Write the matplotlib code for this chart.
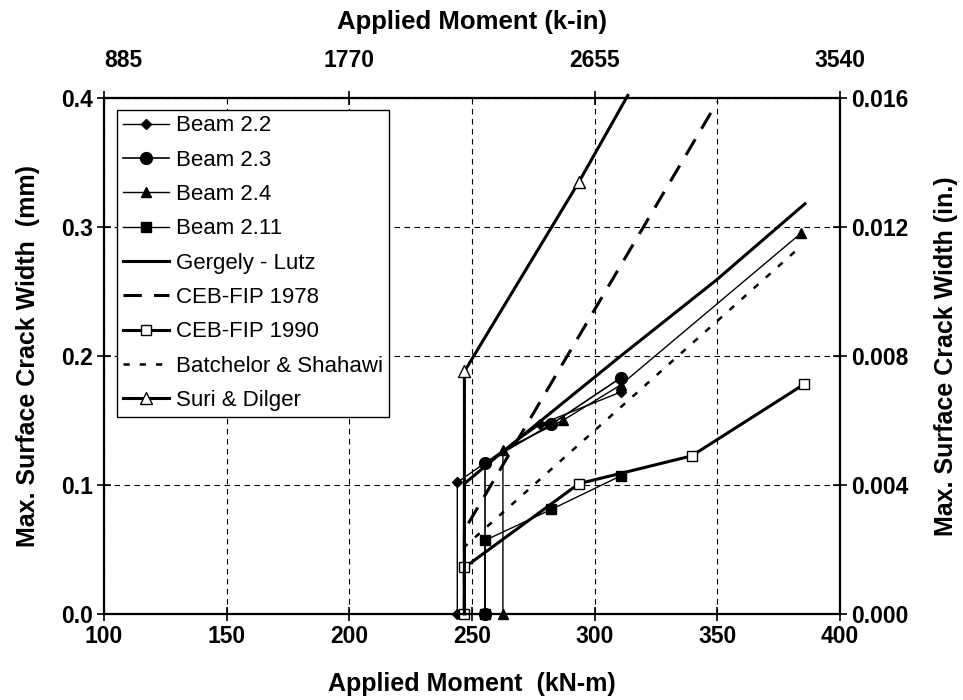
import matplotlib.pyplot as plt

plt.rcParams['font.family'] = ['Liberation Sans', 'DejaVu Sans']

# Test data (kN-m, mm)
b22_x = [244.0, 244.0, 277.9, 310.6]
b22_y = [0.0, 0.102, 0.147, 0.172]
b23_x = [255.3, 255.3, 282.3, 310.6]
b23_y = [0.0, 0.117, 0.147, 0.183]
b24_x = [262.6, 262.6, 287.0, 310.6, 384.0]
b24_y = [0.0, 0.127, 0.150, 0.1775, 0.295]
b211_x = [255.3, 255.3, 282.3, 310.6]
b211_y = [0.0, 0.057, 0.081, 0.107]

# Prediction models
gl_x = [246.9, 246.9, 261.4, 310.3, 349.7, 385.7]
gl_y = [0.0, 0.101, 0.124, 0.1995, 0.259, 0.318]
ceb78_x = [246.9, 246.9, 350.0]
ceb78_y = [0.0, 0.065, 0.397]
ceb90_x = [246.9, 246.9, 293.6, 339.5, 385.3]
ceb90_y = [0.0, 0.036, 0.101, 0.1225, 0.178]
bs_x = [246.9, 246.9, 384.0]
bs_y = [0.0, 0.052, 0.285]
sd_x = [246.9, 246.9, 293.6, 313.5]
sd_y = [0.0, 0.188, 0.335, 0.402]

top_ticks = [885, 1770, 2655, 3540]
right_ticks = [0.000, 0.004, 0.008, 0.012, 0.016]

TICK_FS = 16.5
LAB_FS = 18

fig = plt.figure(figsize=(9.63, 7.0), dpi=100)
ax = fig.add_axes([0.108, 0.123, 0.7643, 0.737])

ax.plot(b22_x, b22_y, color='black', lw=1.0, marker='D', ms=5, label='Beam 2.2', clip_on=False)
ax.plot(b23_x, b23_y, color='black', lw=1.2, marker='o', ms=8.5, label='Beam 2.3', clip_on=False)
ax.plot(b24_x, b24_y, color='black', lw=1.0, marker='^', ms=7, label='Beam 2.4', clip_on=False)
ax.plot(b211_x, b211_y, color='black', lw=1.0, marker='s', ms=6.5, label='Beam 2.11', clip_on=False)
ax.plot(gl_x, gl_y, color='black', lw=2.2, label='Gergely - Lutz')
ax.plot(ceb78_x, ceb78_y, color='black', lw=2.2, dashes=(6, 4), label='CEB-FIP 1978',
        clip_on=False)
ax.plot(ceb90_x, ceb90_y, color='black', lw=2.2, marker='s', ms=7, mfc='white',
        mew=1.0, label='CEB-FIP 1990', clip_on=False)
ax.plot(bs_x, bs_y, color='black', lw=1.8, dashes=(2.5, 4), label='Batchelor & Shahawi')
ax.plot(sd_x, sd_y, color='black', lw=2.2, marker='^', ms=8.5, mfc='white', mew=1.0,
        markevery=[1, 2], label='Suri & Dilger', clip_on=False)

ax.set_xlim(100, 400)
ax.set_ylim(0, 0.4)
ax.set_xticks([100, 150, 200, 250, 300, 350, 400])
ax.set_yticks([0.0, 0.1, 0.2, 0.3, 0.4])
ax.set_yticklabels(['0.0', '0.1', '0.2', '0.3', '0.4'])
ax.grid(True, color='black', lw=0.8, dashes=(5, 4))
ax.tick_params(direction='inout', length=10, width=1.2, labelsize=TICK_FS, pad=3)
for s in ax.spines.values():
    s.set_linewidth(1.5)
for lab in ax.get_xticklabels() + ax.get_yticklabels():
    lab.set_fontweight('bold')

ax.set_xlabel('Applied Moment  (kN-m)', fontsize=LAB_FS, fontweight='bold', labelpad=17)
ax.set_ylabel('Max. Surface Crack Width  (mm)', fontsize=LAB_FS, fontweight='bold', labelpad=15)

axr = ax.twinx()
axr.set_ylim(0, 0.016)
axr.set_yticks(right_ticks)
axr.set_yticklabels(['%.3f' % v for v in right_ticks])
axr.tick_params(direction='inout', length=10, width=1.2, labelsize=TICK_FS, pad=3)
for lab in axr.get_yticklabels():
    lab.set_fontweight('bold')
axr.set_ylabel('Max. Surface Crack Width (in.)', fontsize=LAB_FS, fontweight='bold', labelpad=18)

axt = ax.twiny()
axt.set_xlim(885, 3540)
axt.set_xticks(top_ticks)
axt.set_xticklabels([str(v) for v in top_ticks])
axt.tick_params(direction='inout', length=10, width=1.2, labelsize=TICK_FS, pad=14)
for lab in axt.get_xticklabels():
    lab.set_fontweight('bold')
axt.get_xticklabels()[0].set_ha('left')
axt.set_xlabel('Applied Moment (k-in)', fontsize=LAB_FS + 0.5, fontweight='bold', labelpad=14)
for s in list(axr.spines.values()) + list(axt.spines.values()):
    s.set_linewidth(1.5)

leg = ax.legend(loc='upper left', bbox_to_anchor=(0.018, 0.977), fontsize=16,
                frameon=True, fancybox=False, edgecolor='black', framealpha=1,
                handlelength=2.1, handletextpad=0.3, labelspacing=0.6,
                borderpad=0.25, borderaxespad=0)
leg.get_frame().set_linewidth(1.0)

fig.savefig('out.png', dpi=100)
